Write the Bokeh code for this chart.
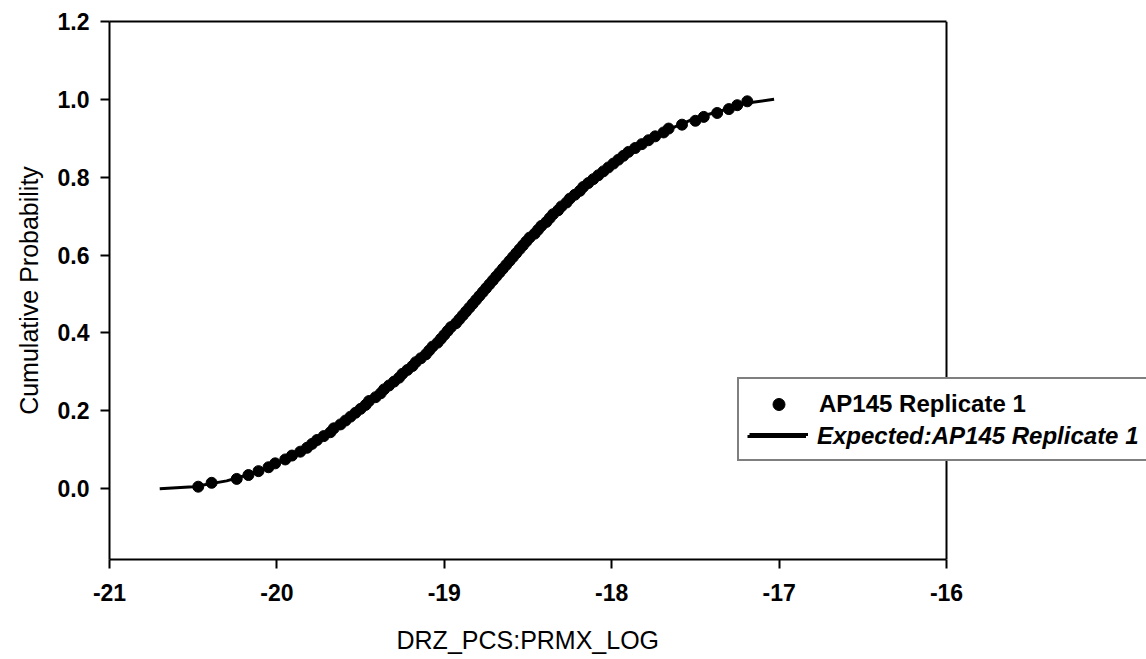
from bokeh.plotting import figure
from bokeh.models import (Range1d, LinearAxis, FixedTicker, Legend, LegendItem,
                          CustomJSTickFormatter, Span, Title)
from bokeh.embed import file_html
from bokeh.resources import INLINE

# ---- data ----
x_expected = [-20.70, -20.50, -20.30, -20.10, -19.90, -19.70, -19.50, -19.30,
              -19.10, -18.90, -18.70, -18.50, -18.30, -18.10, -17.90, -17.70,
              -17.50, -17.35, -17.20, -17.03]
y_expected = [0.000, 0.005, 0.020, 0.045, 0.085, 0.140, 0.205, 0.275,
              0.350, 0.440, 0.540, 0.640, 0.725, 0.800, 0.865, 0.915,
              0.952, 0.970, 0.990, 1.000]

x_obs = [-20.47, -20.39, -20.24, -20.17, -20.11, -20.05, -20.01, -19.95, -19.91, -19.86,
         -19.82, -19.79, -19.76, -19.72, -19.68, -19.66, -19.62, -19.59, -19.56, -19.53,
         -19.50, -19.47, -19.45, -19.41, -19.38, -19.36, -19.33, -19.30, -19.27, -19.25,
         -19.22, -19.19, -19.17, -19.14, -19.11, -19.09, -19.07, -19.04, -19.02, -19.00,
         -18.98, -18.96, -18.93, -18.91, -18.89, -18.87, -18.85, -18.83, -18.81, -18.79,
         -18.77, -18.75, -18.73, -18.71, -18.69, -18.67, -18.65, -18.63, -18.61, -18.59,
         -18.57, -18.55, -18.53, -18.51, -18.49, -18.46, -18.44, -18.42, -18.39, -18.37,
         -18.35, -18.32, -18.30, -18.27, -18.25, -18.22, -18.19, -18.17, -18.14, -18.11,
         -18.08, -18.05, -18.02, -17.99, -17.96, -17.93, -17.90, -17.86, -17.82, -17.78,
         -17.74, -17.69, -17.66, -17.58, -17.50, -17.45, -17.37, -17.30, -17.25, -17.19]
y_obs = [0.005, 0.015, 0.025, 0.035, 0.045, 0.055, 0.065, 0.075, 0.085, 0.095,
         0.105, 0.115, 0.125, 0.135, 0.145, 0.155, 0.165, 0.175, 0.185, 0.195,
         0.205, 0.215, 0.225, 0.235, 0.245, 0.255, 0.265, 0.275, 0.285, 0.295,
         0.305, 0.315, 0.325, 0.335, 0.345, 0.355, 0.365, 0.375, 0.385, 0.395,
         0.405, 0.415, 0.425, 0.435, 0.445, 0.455, 0.465, 0.475, 0.485, 0.495,
         0.505, 0.515, 0.525, 0.535, 0.545, 0.555, 0.565, 0.575, 0.585, 0.595,
         0.605, 0.615, 0.625, 0.635, 0.645, 0.655, 0.665, 0.675, 0.685, 0.695,
         0.705, 0.715, 0.725, 0.735, 0.745, 0.755, 0.765, 0.775, 0.785, 0.795,
         0.805, 0.815, 0.825, 0.835, 0.845, 0.855, 0.865, 0.875, 0.885, 0.895,
         0.905, 0.915, 0.925, 0.935, 0.945, 0.955, 0.965, 0.975, 0.985, 0.995]

x_ticks = [-21, -20, -19, -18, -17, -16]
y_ticks = [0.0, 0.2, 0.4, 0.6, 0.8, 1.0, 1.2]
y_bottom = -0.182
x_title = "DRZ_PCS:PRMX_LOG"
y_title = "Cumulative Probability"
obs_label = "AP145 Replicate 1"
exp_label = "Expected:AP145 Replicate 1"

FONT = "Liberation Sans"

# layout: axes box spans 109..946 px; the frame runs on to the window edge so the
# legend can overlap the right edge of the box, as in the reference
W, H = 1146, 659
LEFT, BOX_RIGHT, TOP, BOTTOM = 109, 946, 21, 100
frame_w = W - LEFT
x_end = x_ticks[0] + (x_ticks[-1] - x_ticks[0]) * frame_w / (BOX_RIGHT - LEFT)

p = figure(width=W, height=H, output_backend="svg", toolbar_location=None,
           x_range=Range1d(x_ticks[0], x_end), y_range=Range1d(y_bottom, y_ticks[-1]),
           min_border_left=LEFT, min_border_right=0, min_border_top=TOP,
           min_border_bottom=BOTTOM)
p.grid.visible = False
p.outline_line_color = None
p.background_fill_color = "white"
p.border_fill_color = "white"

for ax in (p.xaxis[0], p.yaxis[0]):
    ax.axis_line_width = 2
    ax.axis_line_color = "black"
    ax.major_tick_line_width = 2
    ax.major_tick_line_color = "black"
    ax.major_tick_out = 9
    ax.major_tick_in = 0
    ax.minor_tick_line_color = None
    ax.major_label_text_font = FONT
    ax.major_label_text_font_size = "23px"
    ax.major_label_text_font_style = "bold"
    ax.major_label_text_color = "black"
    ax.axis_label_text_font = FONT
    ax.axis_label_text_font_size = "25px"
    ax.axis_label_text_font_style = "normal"
    ax.axis_label_text_color = "black"

p.xaxis[0].ticker = FixedTicker(ticks=x_ticks)
p.xaxis[0].bounds = (x_ticks[0], x_ticks[-1])
p.yaxis[0].ticker = FixedTicker(ticks=y_ticks)
p.xaxis[0].formatter = CustomJSTickFormatter(code="return tick.toFixed(0)")
p.yaxis[0].formatter = CustomJSTickFormatter(code="return tick.toFixed(1)")
p.yaxis[0].axis_label = y_title
p.xaxis[0].major_label_standoff = 15
p.yaxis[0].major_label_standoff = 11
p.yaxis[0].axis_label_standoff = 12
# blank spacer label on the x axis, so the title below sits a little lower
p.xaxis[0].axis_label = " "
p.xaxis[0].axis_label_text_font_size = "12px"
p.xaxis[0].axis_label_standoff = 1

# x-axis title, centred under the axes box (not under the wider frame)
title_w = 263  # approx. rendered width of the title text at 25px
p.add_layout(Title(text=x_title, align="left", offset=(BOX_RIGHT - LEFT) / 2 - title_w / 2,
                   text_font=FONT, text_font_size="25px", text_font_style="normal",
                   text_color="black", standoff=4), "below")

# top edge of the box
top_ax = LinearAxis(ticker=FixedTicker(ticks=[]), bounds=(x_ticks[0], x_ticks[-1]),
                    axis_line_width=2, axis_line_color="black",
                    major_tick_line_color=None, minor_tick_line_color=None,
                    major_label_text_font_size="0px")
p.add_layout(top_ax, "above")
# right edge of the box
p.add_layout(Span(location=x_ticks[-1], dimension="height", line_color="black", line_width=2))

line_r = p.line(x_expected, y_expected, line_color="black", line_width=3)
dots_r = p.scatter(x_obs, y_obs, size=11, fill_color="black", line_color="black")

common = dict(location=(628, 98), padding=10, spacing=0, margin=0,
              glyph_width=59, glyph_height=30, label_height=30, label_standoff=11,
              label_text_font=FONT, label_text_font_size="24px", label_text_color="black",
              border_line_color="black", border_line_width=2)

leg1 = Legend(items=[LegendItem(label=obs_label, renderers=[dots_r]),
                     LegendItem(label=" ", renderers=[line_r])],
              label_width=330, label_text_font_style="bold",
              background_fill_color="white", background_fill_alpha=1.0, **common)
# second legend row in italics, laid exactly over the first legend's bottom row
# (border kept but invisible so that the same padding applies)
leg2 = Legend(items=[LegendItem(label=exp_label, renderers=[line_r])],
              label_text_font_style="bold italic", border_line_alpha=0.0,
              background_fill_alpha=0.0, **common)
p.add_layout(leg1, "center")
p.add_layout(leg2, "center")

open("out.html", "w").write(file_html(p, INLINE))
